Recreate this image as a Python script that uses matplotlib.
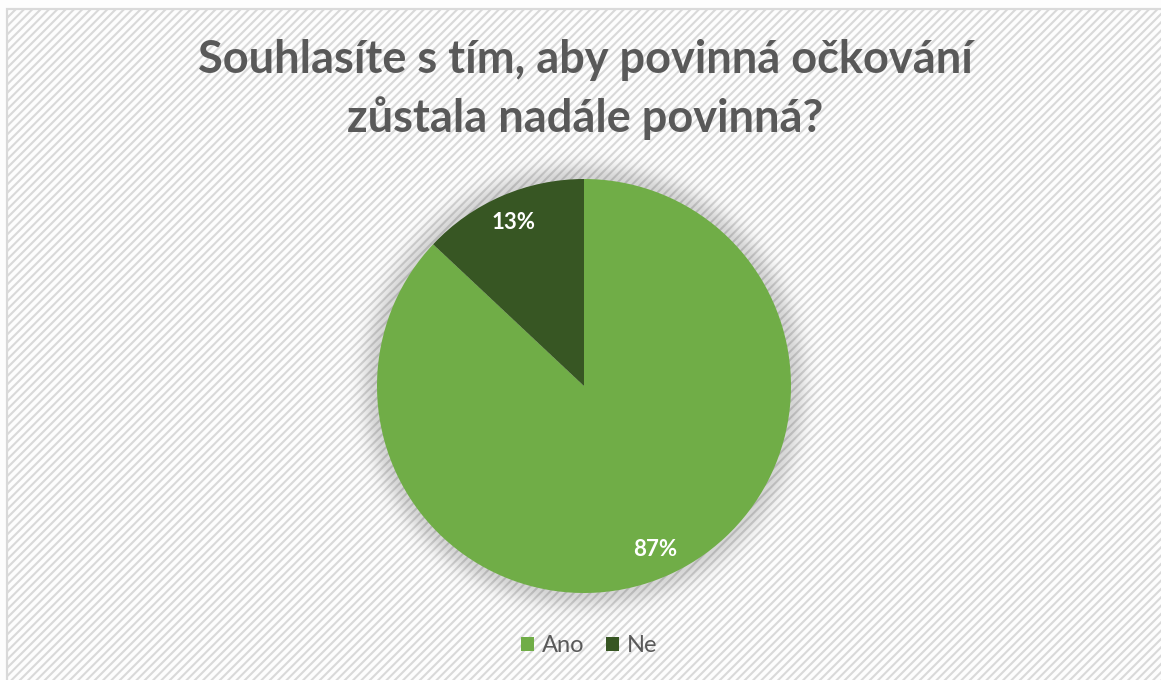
import numpy as np
from matplotlib import pyplot as plt
from matplotlib.patches import Rectangle

# Survey answers
answers = ['Ano', 'Ne']
shares = [87, 13]
colors = ['#70AD47', '#375623']
title = 'Souhlasíte s tím, aby povinná očkování\nzůstala nadále povinná?'

W, H = 1161, 680
cx, cy, r = 584, 680 - 386, 207

plt.rcParams['font.family'] = ['Lato', 'DejaVu Sans']
plt.rcParams['hatch.linewidth'] = 1.5
plt.rcParams['hatch.color'] = '#f6f6f6'

fig = plt.figure(figsize=(W / 100, H / 100), dpi=100)
fig.patch.set_facecolor('#fdfdfd')
ax = fig.add_axes([0, 0, 1, 1])
ax.set_axis_off()

# faint diagonal texture behind the chart, with the frame line on top/left
ax.add_patch(Rectangle((6.5, -20), W + 40, H - 8.5 + 20, facecolor='#fdfdfd',
                       edgecolor='#d9d9d9', linewidth=1.6, hatch='////', zorder=0))

# soft glow under the pie
yy, xx = np.mgrid[0:H, 0:W] + 0.5
d = np.hypot(xx - cx, yy - cy)
out = np.clip(d - r, 0, None)
glow = 0.16 * np.exp(-(out / 16.0) ** 2)
img = np.zeros((H, W, 4))
img[..., 3] = glow
ax.imshow(img, origin='lower', extent=(0, W, 0, H), zorder=1, interpolation='bilinear')

wedges, _, pct = ax.pie(shares, colors=colors, startangle=90, counterclock=False,
                        center=(cx, cy), radius=r, autopct='%1.0f%%', pctdistance=0.86,
                        wedgeprops=dict(linewidth=0, zorder=2),
                        textprops=dict(color='white', fontsize=16, fontweight='bold'))
for t in pct:
    t.set_zorder(3)

ax.set_xlim(0, W)
ax.set_ylim(0, H)
ax.set_aspect('equal')

fig.text(585 / W, 1 - 39 / H, title, ha='center', va='top', fontsize=32.5,
         fontweight='bold', color='#595959', linespacing=1.42)

leg = ax.legend(wedges, answers, loc='center', bbox_to_anchor=(589 / W, 34 / H),
                bbox_transform=fig.transFigure, ncol=2, frameon=False, fontsize=17,
                handlelength=0.55, handleheight=0.55, handletextpad=0.35, columnspacing=0.9)
for t in leg.get_texts():
    t.set_color('#595959')

fig.savefig('out.png', dpi=100, facecolor=fig.get_facecolor())
